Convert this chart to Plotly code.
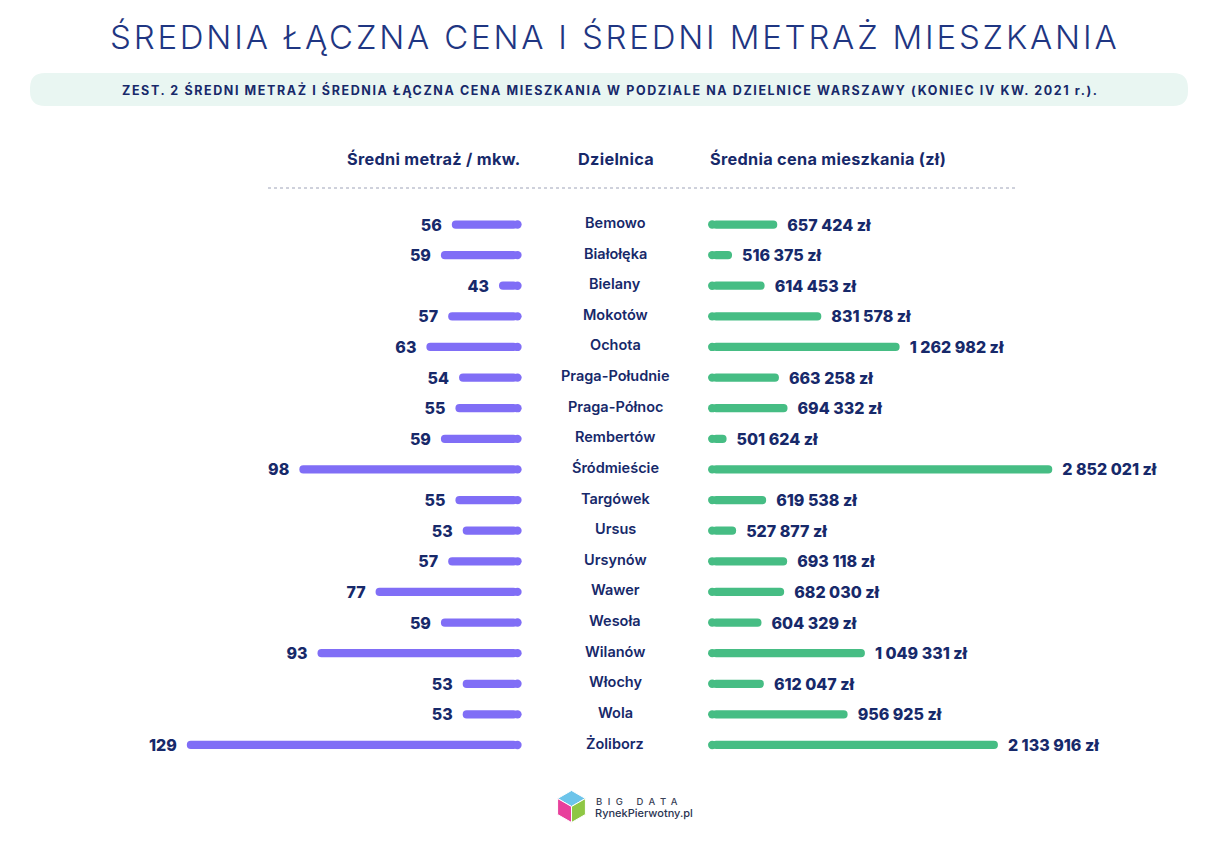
import plotly.graph_objects as go

# ---------------- data ----------------
districts = ["Bemowo", "Białołęka", "Bielany", "Mokotów", "Ochota", "Praga-Południe",
             "Praga-Północ", "Rembertów", "Śródmieście", "Targówek", "Ursus", "Ursynów",
             "Wawer", "Wesoła", "Wilanów", "Włochy", "Wola", "Żoliborz"]
area = [56, 59, 43, 57, 63, 54, 55, 59, 98, 55, 53, 57, 77, 59, 93, 53, 53, 129]
price = [657424, 516375, 614453, 831578, 1262982, 663258, 694332, 501624, 2852021,
         619538, 527877, 693118, 682030, 604329, 1049331, 612047, 956925, 2133916]

title_text = "ŚREDNIA ŁĄCZNA CENA I ŚREDNI METRAŻ MIESZKANIA"
subtitle_text = ("ZEST. 2 ŚREDNI METRAŻ I ŚREDNIA ŁĄCZNA CENA MIESZKANIA W PODZIALE NA "
                 "DZIELNICE WARSZAWY (KONIEC IV KW. 2021 r.).")
header_left = "Średni metraż / mkw."
header_mid = "Dzielnica"
header_right = "Średnia cena mieszkania (zł)"

# ---------------- style ----------------
OFF = 8                      # page body margin
W, H = 1212 - OFF, 848 - OFF
PURPLE = "#806ef6"
GREEN = "#46bd84"
NAVY = "#17296a"
TITLE_C = "#1f3682"
FONT = "Inter"
BAR_PX = 8.3


def px(x):
    return (x - OFF) / W


def py(y):
    return 1 - (y - OFF) / H


LBASE = 37.9          # value at left bar base
RBASE = 464500        # value at right bar base (log axis)
LPX_PER_UNIT = 3.63
RPX_PER_DECADE = 431.5


def fmt_price(v):
    return f"{v:,}".replace(",", " ") + " zł"


fig = go.Figure()

# left bars (area)
fig.add_trace(go.Bar(
    y=districts, x=[a - LBASE for a in area], base=LBASE, orientation="h",
    xaxis="x", yaxis="y", width=0.27,
    marker=dict(color=PURPLE, cornerradius="50%", line=dict(width=0)),
    text=[f"{a}\u00a0\u00a0" for a in area], textposition="outside",
    textfont=dict(family=FONT, size=16, color=NAVY, weight=800),
    cliponaxis=False, constraintext="none", hoverinfo="skip"))
fig.add_trace(go.Scatter(
    y=districts, x=[LBASE] * len(districts), mode="markers", xaxis="x", yaxis="y",
    marker=dict(color=PURPLE, size=BAR_PX, line=dict(width=0)),
    cliponaxis=False, hoverinfo="skip"))

# right bars (price)
fig.add_trace(go.Bar(
    y=districts, x=[p - RBASE for p in price], base=RBASE, orientation="h",
    xaxis="x2", yaxis="y", width=0.27,
    marker=dict(color=GREEN, cornerradius="50%", line=dict(width=0)),
    text=["\u00a0\u00a0" + fmt_price(p) for p in price], textposition="outside",
    textfont=dict(family=FONT, size=16, color=NAVY, weight=800),
    cliponaxis=False, constraintext="none", hoverinfo="skip"))
fig.add_trace(go.Scatter(
    y=districts, x=[RBASE] * len(districts), mode="markers", xaxis="x2", yaxis="y",
    marker=dict(color=GREEN, size=BAR_PX, line=dict(width=0)),
    cliponaxis=False, hoverinfo="skip"))

annotations = []
# district names
for d in districts:
    annotations.append(dict(x=px(615), xref="paper", y=d, yref="y", text=d,
                            showarrow=False, xanchor="center", yanchor="middle", yshift=2,
                            font=dict(family=FONT, size=14.5, color=NAVY, weight=600)))

# headers
for txt, x, anc in [(header_left, 522, "right"), (header_mid, 616, "center"),
                    (header_right, 708, "left")]:
    annotations.append(dict(x=px(x), y=py(159), xref="paper", yref="paper",
                            text=f'<span style="letter-spacing:0.3px">{txt}</span>',
                            showarrow=False, xanchor=anc, yanchor="middle",
                            font=dict(family=FONT, size=16.3, color=NAVY, weight=700)))

# title
annotations.append(dict(x=px(614), y=py(37), xref="paper", yref="paper",
                        text=f'<span style="letter-spacing:2.8px">{title_text}</span>',
                        showarrow=False, xanchor="center", yanchor="middle",
                        font=dict(family=FONT, size=33, color=TITLE_C, weight=300)))
# subtitle
annotations.append(dict(x=px(610), y=py(90), xref="paper", yref="paper",
                        text=f'<span style="letter-spacing:1.6px">{subtitle_text}</span>',
                        showarrow=False, xanchor="center", yanchor="middle",
                        font=dict(family=FONT, size=12.5, color=NAVY, weight=700)))

# logo texts
annotations.append(dict(x=px(594), y=py(801), xref="paper", yref="paper",
                        text='<span style="letter-spacing:5.5px">BIG DATA</span>',
                        showarrow=False, xanchor="left", yanchor="middle",
                        font=dict(family=FONT, size=9.5, color="#3a4258", weight=500)))
annotations.append(dict(x=px(593), y=py(813), xref="paper", yref="paper",
                        text="RynekPierwotny.pl",
                        showarrow=False, xanchor="left", yanchor="middle",
                        font=dict(family=FONT, size=11, color="#2b3552", weight=500)))

shapes = []
# subtitle pill box
x0, x1, y0, y1, r = 30, 1188, 73, 106, 15
path = (f"M {px(x0 + r)},{py(y0)} L {px(x1 - r)},{py(y0)} "
        f"Q {px(x1)},{py(y0)} {px(x1)},{py(y0 + r)} L {px(x1)},{py(y1 - r)} "
        f"Q {px(x1)},{py(y1)} {px(x1 - r)},{py(y1)} L {px(x0 + r)},{py(y1)} "
        f"Q {px(x0)},{py(y1)} {px(x0)},{py(y1 - r)} L {px(x0)},{py(y0 + r)} "
        f"Q {px(x0)},{py(y0)} {px(x0 + r)},{py(y0)} Z")
shapes.append(dict(type="path", path=path, xref="paper", yref="paper",
                   fillcolor="#e9f6f2", line=dict(width=0), layer="below"))
# dotted separator
shapes.append(dict(type="line", x0=px(268), x1=px(1018), y0=py(188), y1=py(188),
                   xref="paper", yref="paper", line=dict(color="#9ea3b8", width=1, dash="dot")))
# logo white box
shapes.append(dict(type="rect", x0=px(550), x1=px(678), y0=py(783), y1=py(830),
                   xref="paper", yref="paper", fillcolor="white", line=dict(width=0),
                   layer="below"))
# logo cube
cx, cy, s = 571.5, 806.5, 16
top = [(cx, cy - s), (cx + s * 0.87, cy - s / 2), (cx, cy), (cx - s * 0.87, cy - s / 2)]
left = [(cx - s * 0.87, cy - s / 2), (cx, cy), (cx, cy + s), (cx - s * 0.87, cy + s / 2)]
right = [(cx, cy), (cx + s * 0.87, cy - s / 2), (cx + s * 0.87, cy + s / 2), (cx, cy + s)]
for pts, col in [(top, "#6cc4ea"), (left, "#e8409c"), (right, "#8fc745")]:
    p = "M " + " L ".join(f"{px(a)},{py(b)}" for a, b in pts) + " Z"
    shapes.append(dict(type="path", path=p, xref="paper", yref="paper",
                       fillcolor=col, line=dict(color="white", width=1)))

# axis geometry (pixel positions of bar bases)
L_BASE_PX = 517.5
R_BASE_PX = 712.15
R_END_PX = 1212
left_span = (L_BASE_PX - OFF) / LPX_PER_UNIT
right_lo = 5.6669
right_hi = right_lo + (R_END_PX - R_BASE_PX) / RPX_PER_DECADE

ydom = [py(760.3), py(209.2)]
fig.update_layout(
    width=W, height=H, margin=dict(l=0, r=0, t=0, b=0),
    paper_bgcolor="white", plot_bgcolor="rgba(0,0,0,0)",
    showlegend=False,
    xaxis=dict(domain=[0, px(L_BASE_PX)], range=[LBASE + left_span, LBASE],
               visible=False, fixedrange=True),
    xaxis2=dict(domain=[px(R_BASE_PX), 1], type="log", range=[right_lo, right_hi],
                visible=False, anchor="y", fixedrange=True),
    yaxis=dict(domain=ydom, type="category", categoryorder="array",
               categoryarray=districts, range=[17.5, -0.5], visible=False,
               fixedrange=True),
    annotations=annotations, shapes=shapes,
)

fig.write_html("out.html")
